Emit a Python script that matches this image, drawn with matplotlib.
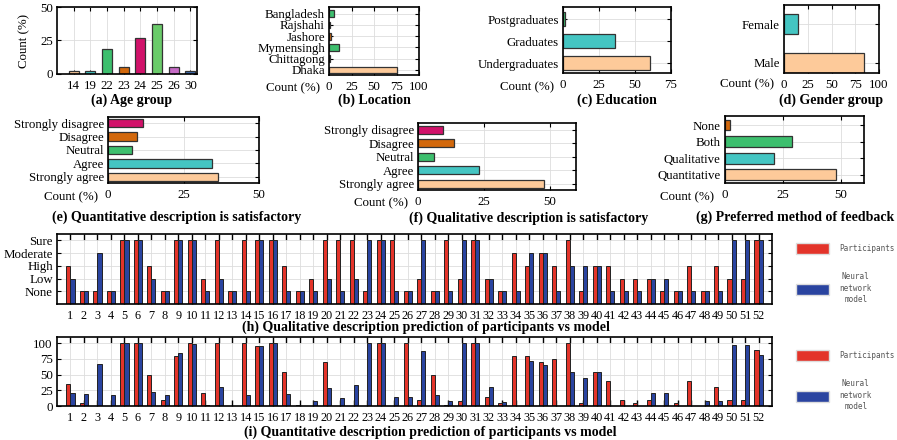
import numpy as np
import matplotlib.pyplot as plt
from matplotlib.patches import Patch

W, H = 897, 440

PEACH = "#fdca9a"
TEAL = "#44c5c2"
GREEN = "#3dbf6e"
ORANGE = "#d2680c"
MAGENTA = "#d1126a"
LGREEN = "#6acb6a"
ORCHID = "#c66bc6"
BLUE = "#3f6db3"
RED = "#e3342a"
NAVY = "#2a44a0"

# survey data (percent)
age_groups = ["14", "19", "22", "23", "24", "25", "26", "30"]
age_pct = [2, 2, 19, 5.5, 27, 37, 5.5, 2]

locations = ["Dhaka", "Chittagong", "Mymensingh", "Jashore", "Rajshahi", "Bangladesh"]
location_pct = [75, 1.5, 11, 2.5, 1, 5]

education = ["Undergraduates", "Graduates", "Postgraduates"]
education_pct = [60.5, 36, 1.5]

genders = ["Male", "Female"]
gender_pct = [84, 15]

agreement = ["Strongly agree", "Agree", "Neutral", "Disagree", "Strongly disagree"]
quant_satisfied = [36.5, 34.5, 8, 9.5, 11.5]
qual_satisfied = [48, 23, 6, 13.5, 9.5]

feedback_methods = ["Quantitative", "Qualitative", "Both", "None"]
feedback_pct = [48, 21, 29, 2]

# predictions per sample: 1=None 2=Low 3=High 4=Moderate 5=Sure
levels = ["None", "Low", "High", "Moderate", "Sure"]
qual_participants = [3, 1, 1, 1, 5, 5, 3, 1, 5, 5, 2, 5, 1, 5, 5, 5, 3, 1, 2, 5,
                     5, 5, 1, 5, 5, 1, 2, 1, 5, 2, 5, 2, 1, 4, 3, 4, 3, 5, 1, 3,
                     3, 2, 2, 2, 1, 1, 3, 1, 3, 2, 2, 5]
qual_model = [2, 1, 4, 1, 5, 5, 2, 1, 5, 5, 1, 2, 1, 1, 5, 5, 1, 1, 1, 2,
              1, 2, 5, 5, 1, 1, 5, 1, 1, 5, 5, 2, 1, 1, 4, 4, 1, 3, 3, 3,
              1, 1, 1, 2, 2, 1, 1, 1, 1, 5, 5, 5]
quant_participants = [35, 5, 0, 0, 100, 100, 50, 10, 80, 100, 20, 100, 0, 100, 95, 100, 55, 1, 0, 70,
                      0, 0, 0, 100, 0, 100, 10, 50, 1, 8, 100, 15, 5, 80, 80, 70, 75, 100, 5, 55,
                      40, 10, 5, 10, 0, 5, 40, 0, 30, 10, 10, 90]
quant_model = [21, 19, 67, 17, 100, 100, 22, 18, 85, 99, 2, 31, 0, 17, 95, 100, 19, 0, 8, 28,
               13, 34, 100, 100, 15, 15, 88, 18, 8, 100, 100, 30, 6, 0, 71, 65, 0, 54, 45, 54,
               0, 0, 0, 21, 21, 0, 0, 8, 8, 98, 98, 82]

FS = 9.3     # tick label size
TFS = 10.0   # panel caption size

plt.rcParams["font.family"] = ["Liberation Serif", "DejaVu Serif"]
plt.rcParams["font.size"] = FS

fig = plt.figure(figsize=(W / 100, H / 100), dpi=100)


def fx(x):
    return x / W


def fy(y):
    return 1 - y / H


def make_axes(l, r, t, b):
    ax = fig.add_axes([fx(l), fy(b), (r - l) / W, (b - t) / H])
    for s in ax.spines.values():
        s.set_linewidth(1.2)
    ax.grid(True, color="#dddddd", lw=0.6)
    ax.set_axisbelow(True)
    ax.tick_params(direction="in", top=True, right=True, length=3, width=0.8,
                   labelsize=FS, pad=3)
    ax.tick_params(axis="x", pad=4.5)
    return ax


def title(x, y, s):
    fig.text(fx(x), fy(y), s, ha="center", va="center", fontsize=TFS, fontweight="bold")


def count_label(x, y):
    fig.text(fx(x), fy(y), "Count (%)", ha="right", va="center", fontsize=FS)


def hbar(ax, cats, vals, colors, xmax, xticks, ylim, height):
    y = np.arange(len(cats))
    ax.barh(y, vals, height=height, color=colors, edgecolor="#333333", lw=0.9)
    ax.set_yticks(y)
    ax.set_yticklabels(cats)
    ax.set_xlim(0, xmax)
    ax.set_xticks(xticks)
    ax.set_ylim(*ylim)


# (a) age group
ax = make_axes(57, 197, 7, 74)
xa = np.arange(len(age_groups))
ax.bar(xa, age_pct, width=0.6, color=[PEACH, TEAL, GREEN, ORANGE, MAGENTA, LGREEN, ORCHID, BLUE],
       edgecolor="#333333", lw=0.9)
ax.set_xticks(xa)
ax.set_xticklabels(age_groups)
ax.set_xlim(-1, 7.4)
ax.set_ylim(0, 50)
ax.set_yticks([0, 25, 50])
ax.set_ylabel("Count (%)", labelpad=7)
title(132, 100, "(a) Age group")

# (b) location
ax = make_axes(329, 419, 7, 75)
hbar(ax, locations, location_pct, [PEACH, TEAL, GREEN, ORANGE, MAGENTA, GREEN],
     100, [0, 25, 50, 75, 100], (-0.45, 5.6), 0.6)
count_label(320, 88)
title(374, 100, "(b) Location")

# (c) education
ax = make_axes(563, 671, 7, 73)
hbar(ax, education, education_pct, [PEACH, TEAL, GREEN], 75, [0, 25, 50, 75], (-0.45, 2.55), 0.6)
count_label(554, 87)
title(617, 100, "(c) Education")

# (d) gender
ax = make_axes(784, 879, 5, 73)
hbar(ax, genders, gender_pct, [PEACH, TEAL], 100, [0, 25, 50, 75, 100], (-0.26, 1.49), 0.5)
count_label(774, 84)
title(831, 100, "(d) Gender group")

agree_colors = [PEACH, TEAL, GREEN, ORANGE, MAGENTA]

# (e) quantitative satisfactory
ax = make_axes(108, 259, 117, 183)
hbar(ax, agreement, quant_satisfied, agree_colors, 50, [0, 25, 50], (-0.45, 4.45), 0.6)
count_label(98, 197)
title(177, 217, "(e) Quantitative description is satisfactory")

# (f) qualitative satisfactory
ax = make_axes(418, 576, 123, 190)
hbar(ax, agreement, qual_satisfied, agree_colors, 60, [0, 25, 50], (-0.45, 4.5), 0.6)
count_label(408, 203)
title(529, 218, "(f) Qualitative description is satisfactory")

# (g) preferred feedback
ax = make_axes(725, 864, 116, 183)
hbar(ax, feedback_methods, feedback_pct, [PEACH, TEAL, GREEN, ORANGE], 60, [0, 25, 50],
     (-0.5, 3.55), 0.65)
count_label(714, 197)
title(795, 217, "(g) Preferred method of feedback")

samples = np.arange(1, len(qual_participants) + 1)


def pred_axes(t, b, part, model, ylim, yticks, yticklabels, leg_top):
    ax = make_axes(57, 772, t, b)
    ax.bar(samples - 0.15, part, width=0.3, color=RED, edgecolor="#222222", lw=0.7)
    ax.bar(samples + 0.15, model, width=0.3, color=NAVY, edgecolor="#222222", lw=0.7)
    ax.set_xlim(0, 53)
    ax.set_xticks(samples)
    ax.set_ylim(*ylim)
    ax.set_yticks(yticks)
    ax.set_yticklabels(yticklabels)
    ax.tick_params(axis="x", length=4, width=1.0, pad=4, labelsize=8.8)
    handles = [Patch(facecolor=RED, edgecolor="#dddddd"),
               Patch(facecolor=NAVY, edgecolor="#dddddd")]
    leg = ax.legend(handles, ["Participants", "Neural\nnetwork\nmodel"], loc="upper left",
                    bbox_to_anchor=(fx(796), fy(leg_top)), bbox_transform=fig.transFigure,
                    frameon=False, prop={"family": "DejaVu Sans Mono", "size": 5.5},
                    handlelength=4.3, handleheight=1.8, labelspacing=2.4, handletextpad=1.4,
                    borderpad=0, borderaxespad=0)
    for txt in leg.get_texts():
        txt.set_color("#555555")
        txt.set_multialignment("center")
        txt.set_linespacing(1.35)
    return ax


# (h) qualitative predictions
pred_axes(234, 304, qual_participants, qual_model, (0, 5.5), [1, 2, 3, 4, 5], levels, 243)
title(426, 327, "(h) Qualitative description prediction of participants vs model")

# (i) quantitative predictions
pred_axes(337, 406, quant_participants, quant_model, (0, 110), [0, 25, 50, 75, 100],
          ["0", "25", "50", "75", "100"], 350)
title(430, 432, "(i) Quantitative description prediction of participants vs model")

fig.savefig("out.png", dpi=100)
